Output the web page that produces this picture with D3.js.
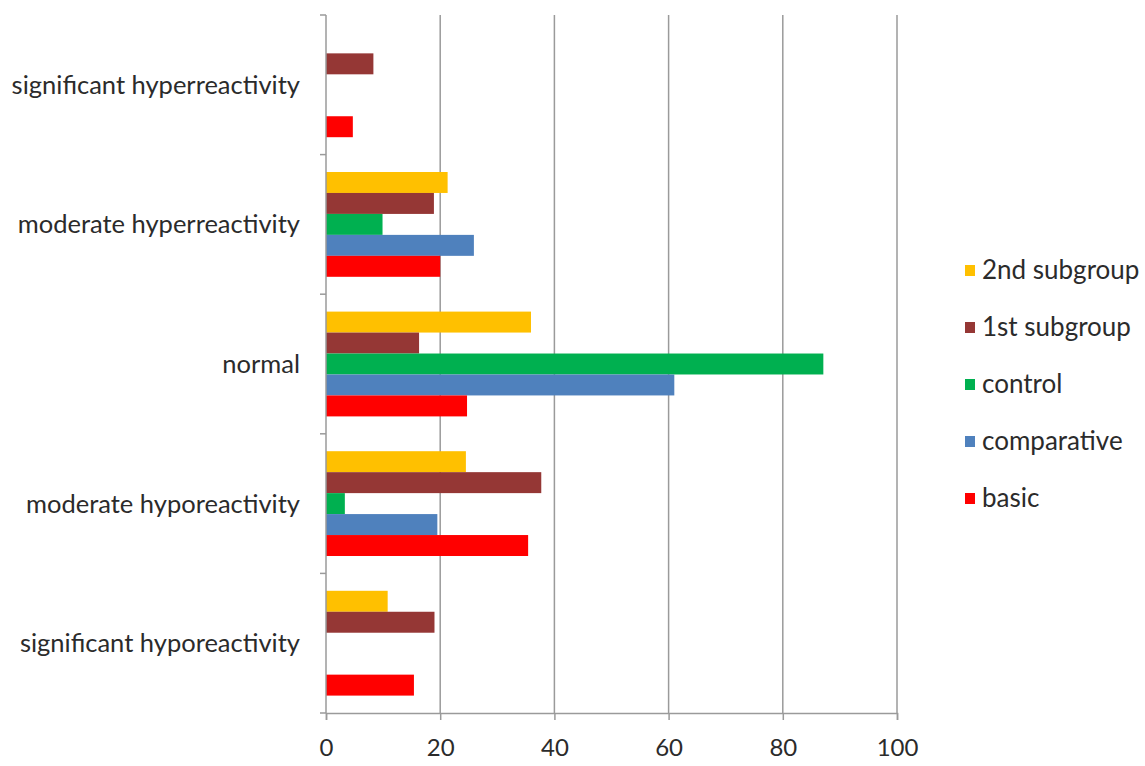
<!DOCTYPE html>
<html>
<head>
<meta charset="utf-8">
<script src="https://cdn.jsdelivr.net/npm/d3@7"></script>
<style>
  html, body { margin: 0; padding: 0; background: #fff; }
  svg { display: block; }
  text { font-family: "Lato", "Open Sans", sans-serif; fill: #2b2b2b; }
</style>
</head>
<body>
<svg id="chart" width="1145" height="766"></svg>
<script>
// Reactivity categories, listed top to bottom
const categories = [
  "significant hyperreactivity",
  "moderate hyperreactivity",
  "normal",
  "moderate hyporeactivity",
  "significant hyporeactivity"
];

// Groups, listed in the order their bars stack inside a category (top to bottom)
const seriesNames = ["2nd subgroup", "1st subgroup", "control", "comparative", "basic"];
const seriesColors = ["#FFC000", "#953735", "#00B050", "#4F81BD", "#FF0000"];

// Percentage values per group, aligned with categories
const subgroup2   = [0, 21.3, 35.9, 24.5, 10.8];
const subgroup1   = [8.3, 18.9, 16.3, 37.7, 19.0];
const control     = [0, 9.9, 87.1, 3.3, 0];
const comparative = [0, 25.9, 61.0, 19.5, 0];
const basic       = [4.7, 20.0, 24.7, 35.4, 15.4];

const xTicks = [0, 20, 40, 60, 80, 100];

const seriesValues = [subgroup2, subgroup1, control, comparative, basic];

const svg = d3.select("#chart");
const plotLeft = 326, plotRight = 897, plotTop = 15, plotBottom = 713;

const x = d3.scaleLinear().domain([0, 100]).range([plotLeft, plotRight]);
const y = d3.scaleBand().domain(categories).range([plotTop, plotBottom]).padding(0);
const ySub = d3.scaleBand().domain(seriesNames).range([0, y.bandwidth()])
  .paddingInner(0).paddingOuter(0.83);

const axisColor = "#9a9a9a";

// vertical gridlines
svg.append("g")
  .selectAll("line")
  .data(xTicks.filter(d => d > 0))
  .join("line")
  .attr("x1", d => x(d)).attr("x2", d => x(d))
  .attr("y1", plotTop).attr("y2", plotBottom)
  .attr("stroke", axisColor).attr("stroke-width", 1.5);

// bars
const rows = [];
categories.forEach((c, i) => {
  seriesNames.forEach((s, j) => {
    rows.push({ cat: c, series: s, value: seriesValues[j][i], color: seriesColors[j] });
  });
});

svg.append("g")
  .selectAll("rect")
  .data(rows.filter(d => d.value > 0))
  .join("rect")
  .attr("x", x(0))
  .attr("y", d => y(d.cat) + ySub(d.series))
  .attr("width", d => x(d.value) - x(0))
  .attr("height", ySub.bandwidth())
  .attr("fill", d => d.color);

// x axis
const xAxis = svg.append("g")
  .attr("transform", `translate(0,${plotBottom})`)
  .call(d3.axisBottom(x).tickValues(xTicks).tickSize(7).tickPadding(19).tickFormat(d3.format("d")));
xAxis.select(".domain").attr("stroke", axisColor).attr("stroke-width", 1.5);
xAxis.selectAll(".tick line").attr("stroke", axisColor).attr("stroke-width", 1.5);
xAxis.selectAll(".tick text").attr("font-size", 24)
  .attr("font-family", "Lato, 'Open Sans', sans-serif").attr("fill", "#2b2b2b");

// y axis: line plus tick marks at category boundaries
svg.append("line")
  .attr("x1", plotLeft).attr("x2", plotLeft).attr("y1", plotTop).attr("y2", plotBottom)
  .attr("stroke", axisColor).attr("stroke-width", 1.5);
const boundaries = categories.map(c => y(c)).concat([plotBottom]);
svg.append("g")
  .selectAll("line")
  .data(boundaries)
  .join("line")
  .attr("x1", plotLeft - 6).attr("x2", plotLeft)
  .attr("y1", d => d).attr("y2", d => d)
  .attr("stroke", axisColor).attr("stroke-width", 1.5);

// category labels
svg.append("g")
  .selectAll("text")
  .data(categories)
  .join("text")
  .attr("x", 300)
  .attr("y", d => y(d) + y.bandwidth() / 2)
  .attr("dy", "0.35em")
  .attr("text-anchor", "end")
  .attr("font-size", 25.5)
  .text(d => d);

// legend
const legend = svg.append("g").attr("transform", "translate(965,270)");
const items = legend.selectAll("g")
  .data(seriesNames)
  .join("g")
  .attr("transform", (d, i) => `translate(0,${i * 57})`);
items.append("rect")
  .attr("x", 0).attr("y", -5).attr("width", 10).attr("height", 11)
  .attr("fill", (d, i) => seriesColors[i]);
items.append("text")
  .attr("x", 17).attr("y", 0).attr("dy", "0.35em")
  .attr("font-size", 26)
  .text(d => d);
</script>
</body>
</html>
